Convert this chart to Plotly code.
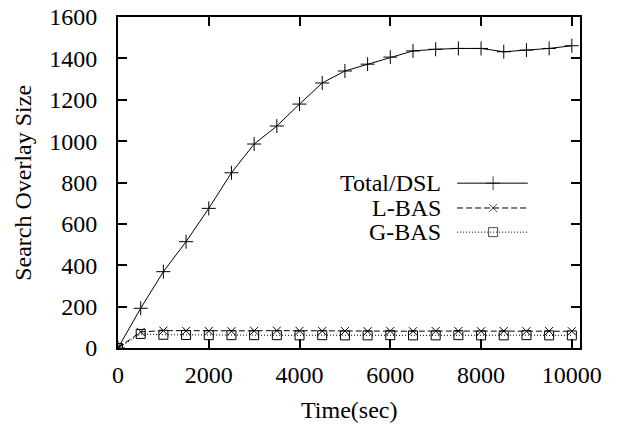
import plotly.graph_objects as go

time_sec = [0, 500, 1000, 1500, 2000, 2500, 3000, 3500, 4000, 4500, 5000,
            5500, 6000, 6500, 7000, 7500, 8000, 8500, 9000, 9500, 10000]
total_dsl = [0, 192, 369, 514, 675, 847, 986, 1073, 1179, 1281, 1339,
             1372, 1406, 1436, 1444, 1448, 1448, 1432, 1440, 1448, 1461]
l_bas = [0, 78, 84, 83, 82, 81, 83, 84, 83, 82, 82,
         81, 82, 81, 82, 82, 81, 82, 81, 82, 81]
g_bas = [0, 68, 64, 63, 62, 62, 62, 62, 61, 62, 61,
         61, 62, 61, 61, 62, 61, 61, 62, 61, 61]

series_names = ["Total/DSL", "L-BAS", "G-BAS"]
series_values = [total_dsl, l_bas, g_bas]
dashes = ["solid", "6px,3px", "1px,2px"]
symbols = ["cross-thin-open", "x-thin-open", "square-open"]
msizes = [10, 8, 9]

x_ticks = [0, 2000, 4000, 6000, 8000, 10000]
x_tick_labels = ["0", "2000", "4000", "6000", "8000", "10000"]
y_ticks = [0, 200, 400, 600, 800, 1000, 1200, 1400, 1600]
y_tick_labels = ["0", "200", "400", "600", "800", "1000", "1200", "1400", "1600"]

x_title = "Time(sec)"
y_title = "Search Overlay Size"

FONT = "Liberation Serif, Times New Roman, serif"
FS = 24

fig = go.Figure()
for name, vals, dash, sym, ms in zip(series_names, series_values, dashes, symbols, msizes):
    fig.add_trace(go.Scatter(
        x=time_sec, y=vals, mode="lines+markers", name=name, showlegend=False,
        line=dict(color="black", width=1, dash=dash),
        marker=dict(symbol=sym, size=ms, color="black", line=dict(color="black", width=1)),
    ))

# manual gnuplot-style legend (text then sample) on an auxiliary 0..1 axis
leg_x = [0.734, 0.812, 0.887]
leg_y = [0.498, 0.423, 0.350]
for name, dash, sym, ms, ly in zip(series_names, dashes, symbols, msizes, leg_y):
    fig.add_trace(go.Scatter(
        x=leg_x, y=[ly, ly, ly], xaxis="x2", yaxis="y2", mode="lines+markers",
        showlegend=False, hoverinfo="skip",
        line=dict(color="black", width=1, dash=dash),
        marker=dict(symbol=sym, size=[0, ms, 0], color="black", line=dict(color="black", width=1)),
    ))
    fig.add_annotation(x=0.701, y=ly, xref="paper", yref="paper", text=name,
                       showarrow=False, xanchor="right", yanchor="middle", borderpad=0,
                       font=dict(family=FONT, size=FS, color="black"))

# axis titles
fig.add_annotation(x=0.5, y=-0.187, xref="paper", yref="paper", text=x_title,
                   showarrow=False, xanchor="center", yanchor="middle",
                   font=dict(family=FONT, size=FS, color="black"))
fig.add_annotation(x=-0.207, y=0.5, xref="paper", yref="paper", text=y_title,
                   showarrow=False, xanchor="center", yanchor="middle", textangle=-90,
                   font=dict(family=FONT, size=FS, color="black"))

axis_common = dict(
    showline=True, linecolor="black", linewidth=2, mirror="ticks",
    ticks="inside", ticklen=9, tickwidth=2, tickcolor="black",
    showgrid=False, zeroline=False, automargin=False,
    tickfont=dict(family=FONT, size=FS, color="black"),
)

fig.update_layout(
    width=619, height=426,
    margin=dict(l=118, r=39, t=17, b=78),
    paper_bgcolor="white", plot_bgcolor="white",
    font=dict(family=FONT, size=FS, color="black"),
    xaxis=dict(range=[0, 10180], tickvals=x_ticks, ticktext=x_tick_labels, ticklabelstandoff=4,
               **axis_common),
    yaxis=dict(range=[0, 1600], tickvals=y_ticks, ticktext=y_tick_labels, ticklabelstandoff=14,
               **axis_common),
    xaxis2=dict(range=[0, 1], overlaying="x", visible=False),
    yaxis2=dict(range=[0, 1], overlaying="y", visible=False),
)

fig.write_html("out.html")
